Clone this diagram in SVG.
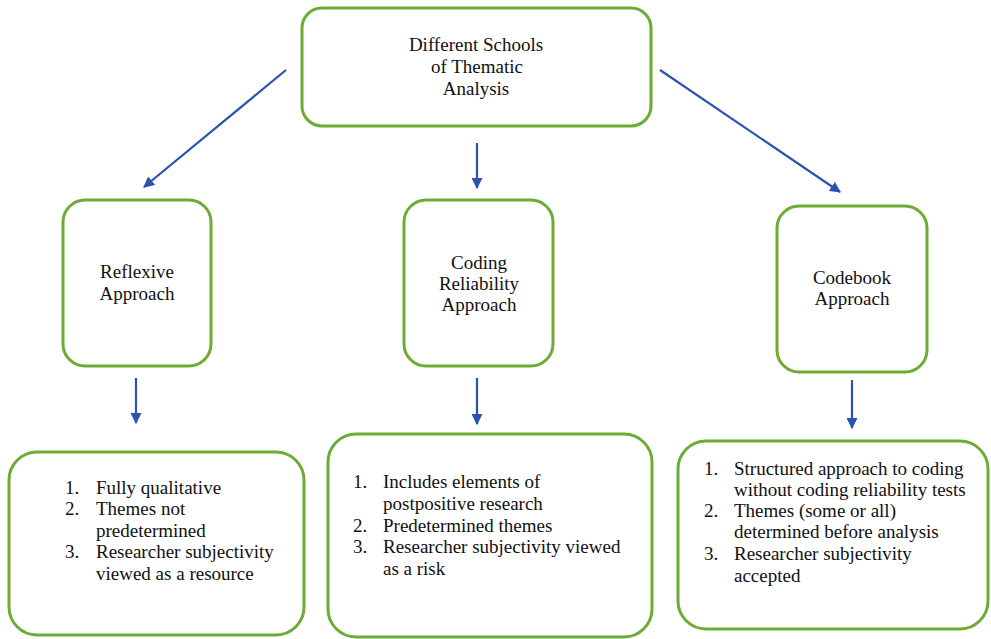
<svg xmlns="http://www.w3.org/2000/svg" width="991" height="639" viewBox="0 0 991 639">
<defs>
<style>
.box{fill:#fff;stroke:#6eab35;stroke-width:3}
.t{font-family:'Liberation Serif','Times New Roman','DejaVu Serif',serif;font-size:19px;fill:#111}
.c{text-anchor:middle}
.ln{stroke:#2a52b4;stroke-width:2.2;fill:none}
</style>
<marker id="ah" viewBox="0 0 10 10" refX="9" refY="5" markerWidth="5" markerHeight="5" orient="auto" markerUnits="strokeWidth">
<path d="M0,0 L10,5 L0,10 z" fill="#2a52b4"/>
</marker>
</defs>
<rect width="991" height="639" fill="#fff"/>
<g id="connectors">
<line class="ln" x1="286" y1="70" x2="144" y2="187" marker-end="url(#ah)"/>
<line class="ln" x1="477" y1="143" x2="477" y2="188" marker-end="url(#ah)"/>
<line class="ln" x1="660" y1="70" x2="840" y2="192" marker-end="url(#ah)"/>
<line class="ln" x1="136" y1="378" x2="136" y2="423" marker-end="url(#ah)"/>
<line class="ln" x1="477" y1="378" x2="477" y2="424" marker-end="url(#ah)"/>
<line class="ln" x1="852" y1="380" x2="852" y2="428" marker-end="url(#ah)"/>
</g>
<g id="root">
<rect class="box" x="302" y="8" width="349" height="118" rx="20"/>
<text class="t c" x="476" y="51">Different Schools</text>
<text class="t c" x="477" y="73">of Thematic</text>
<text class="t c" x="476" y="95">Analysis</text>
</g>
<g id="reflexive">
<rect class="box" x="63" y="200" width="148" height="166" rx="22"/>
<text class="t c" x="137" y="278">Reflexive</text>
<text class="t c" x="137" y="300">Approach</text>
</g>
<g id="coding">
<rect class="box" x="404" y="200" width="149" height="166" rx="22"/>
<text class="t c" x="479" y="269">Coding</text>
<text class="t c" x="479" y="290">Reliability</text>
<text class="t c" x="479" y="311">Approach</text>
</g>
<g id="codebook">
<rect class="box" x="777" y="206" width="150" height="166" rx="22"/>
<text class="t c" x="852" y="284">Codebook</text>
<text class="t c" x="852" y="305">Approach</text>
</g>
<g id="reflexive-list">
<rect class="box" x="9" y="452" width="295" height="183" rx="28"/>
<text class="t" x="65" y="494">1.</text><text class="t" x="96" y="494">Fully qualitative</text>
<text class="t" x="65" y="515">2.</text><text class="t" x="96" y="515">Themes not</text>
<text class="t" x="96" y="537">predetermined</text>
<text class="t" x="65" y="558">3.</text><text class="t" x="96" y="558">Researcher subjectivity</text>
<text class="t" x="96" y="580">viewed as a resource</text>
</g>
<g id="coding-list">
<rect class="box" x="328" y="434" width="324" height="203" rx="28"/>
<text class="t" x="353" y="488">1.</text><text class="t" x="383" y="488">Includes elements of</text>
<text class="t" x="383" y="510">postpositive research</text>
<text class="t" x="353" y="532">2.</text><text class="t" x="383" y="532">Predetermined themes</text>
<text class="t" x="353" y="553">3.</text><text class="t" x="383" y="553">Researcher subjectivity viewed</text>
<text class="t" x="383" y="575">as a risk</text>
</g>
<g id="codebook-list">
<rect class="box" x="678" y="441" width="310" height="188" rx="28"/>
<text class="t" x="704" y="475">1.</text><text class="t" x="734" y="475">Structured approach to coding</text>
<text class="t" x="734" y="496">without coding reliability tests</text>
<text class="t" x="704" y="517">2.</text><text class="t" x="734" y="517">Themes (some or all)</text>
<text class="t" x="734" y="538">determined before analysis</text>
<text class="t" x="704" y="560">3.</text><text class="t" x="734" y="560">Researcher subjectivity</text>
<text class="t" x="734" y="582">accepted</text>
</g>
</svg>
